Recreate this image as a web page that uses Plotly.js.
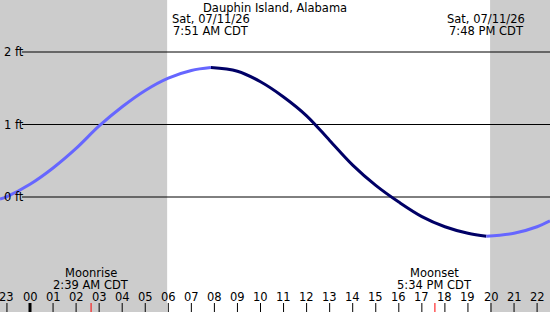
<!DOCTYPE html>
<html><head><meta charset="utf-8">
<script src="https://cdn.plot.ly/plotly-3.0.1.min.js"></script>
<style>html,body{margin:0;padding:0;background:#fff}#chart{width:550px;height:312px}</style>
</head><body><div id="chart"></div>
<script>
// hours since local midnight (Sat 07/11/26)
const tideHours = [-1.3, -1, 0, 1, 2, 3, 4, 5, 6, 7, 7.85, 9, 10, 11, 12, 13, 14, 15, 16, 17, 18, 19, 19.8, 21, 22, 22.56];
const tideFeet  = [-0.03, 0.005, 0.175, 0.40, 0.67, 0.98, 1.245, 1.47, 1.64, 1.745, 1.785, 1.735, 1.59, 1.38, 1.12, 0.78, 0.44, 0.16, -0.07, -0.27, -0.41, -0.50, -0.54, -0.50, -0.41, -0.33];
const highTide = 7.85, lowTide = 19.8;
const sunrise = 5.95, sunset = 19.96;
const moonrise = 2.65, moonset = 17.567;
const hourTicks = [-1,0,1,2,3,4,5,6,7,8,9,10,11,12,13,14,15,16,17,18,19,20,21,22];
const hourLabels = ["23","00","01","02","03","04","05","06","07","08","09","10","11","12","13","14","15","16","17","18","19","20","21","22"];
const gridFeet = [0,1,2];
const gridLabels = ["0 ft","1 ft","2 ft"];
const title = "Dauphin Island, Alabama";
const highLabel = ["Sat, 07/11/26","7:51 AM CDT"];
const lowLabel = ["Sat, 07/11/26","7:48 PM CDT"];
const moonriseLabel = ["Moonrise","2:39 AM CDT"];
const moonsetLabel = ["Moonset","5:34 PM CDT"];

const W=550,H=312;
const xMin=-30/23.05, xMax=520/23.05;
const yMax=197/72.5, yMin=(197-312)/72.5;
const py = p => 1 - p/H;
const FONT = {family:"DejaVu Sans", size:11.5, color:"#000"};

function seg(a,b){
  const xs=[],ys=[];
  tideHours.forEach((h,i)=>{ if(h>=a-1e-9 && h<=b+1e-9){xs.push(h);ys.push(tideFeet[i]);} });
  return {xs,ys};
}
const light="#6666ff", dark="#000066";
const s1=seg(-99,highTide), s2=seg(highTide,lowTide), s3=seg(lowTide,99);
const mk=(s,c)=>({x:s.xs,y:s.ys,type:"scatter",mode:"lines",line:{color:c,width:3,shape:"spline",smoothing:1},hoverinfo:"skip",showlegend:false});
const data=[mk(s1,light),mk(s2,dark),mk(s3,light)];

const shapes=[
  {type:"rect",xref:"x",yref:"paper",x0:xMin,x1:sunrise,y0:0,y1:1,fillcolor:"#cccccc",line:{width:0},layer:"below"},
  {type:"rect",xref:"x",yref:"paper",x0:sunset,x1:xMax,y0:0,y1:1,fillcolor:"#cccccc",line:{width:0},layer:"below"}
];
gridFeet.forEach(v=>shapes.push({type:"line",xref:"paper",yref:"y",x0:22/W,x1:1,y0:v,y1:v,line:{color:"#000",width:1},layer:"below"}));
hourTicks.forEach(h=>shapes.push({type:"line",xref:"x",yref:"paper",x0:h,x1:h,y0:py(303),y1:0,line:{color:"#000",width:h===0?3:1}}));
[moonrise,moonset].forEach(h=>shapes.push({type:"line",xref:"x",yref:"paper",x0:h,x1:h,y0:py(303),y1:0,line:{color:"#ff0000",width:1}}));

const ann=[];
const A=(text,xref,x,y,xanchor)=>ann.push({text,xref,yref:"paper",x,y:py(y),xanchor:xanchor||"center",yanchor:"middle",showarrow:false,font:FONT});
A(title,"paper",275/W,8);
A(highLabel[0],"x",highTide,19); A(highLabel[1],"x",highTide,31);
A(lowLabel[0],"x",lowTide,19); A(lowLabel[1],"x",lowTide,31);
A(moonriseLabel[0],"x",moonrise,273); A(moonriseLabel[1],"x",moonrise,285);
A(moonsetLabel[0],"x",moonset,273); A(moonsetLabel[1],"x",moonset,285);
hourTicks.forEach((h,i)=>A(hourLabels[i],"x",h,297));
gridFeet.forEach((v,i)=>ann.push({text:gridLabels[i],xref:"paper",yref:"y",x:1.5/W,y:v,xanchor:"left",yanchor:"middle",showarrow:false,font:FONT}));

const layout={width:W,height:H,margin:{l:0,r:0,t:0,b:0},paper_bgcolor:"#fff",plot_bgcolor:"#fff",
  xaxis:{range:[xMin,xMax],visible:false,fixedrange:true},
  yaxis:{range:[yMin,yMax],visible:false,fixedrange:true},
  shapes,annotations:ann,showlegend:false};
Plotly.newPlot("chart",data,layout,{staticPlot:true,displayModeBar:false});
</script></body></html>
